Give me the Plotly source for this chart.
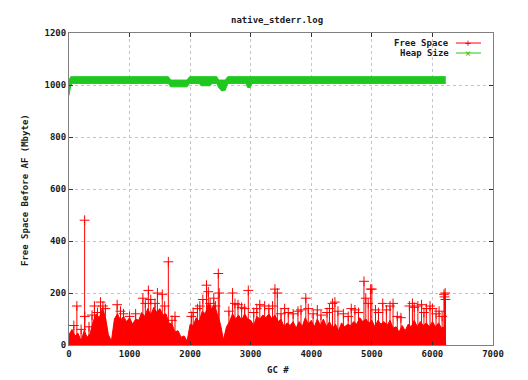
import plotly.graph_objects as go

# ---- data ----
# Free Space: dense body (top edge of the solid red area), sampled every 50 GCs
fs_env_gc = list(range(0, 6201, 50)) + [6220]
fs_env_val = [40, 60, 35, 45, 15, 55, 30, 45, 90, 120,
              105, 140, 110, 40, 15, 100, 120, 95, 110, 90,
              105, 80, 100, 95, 125, 110, 140, 115, 145, 125,
              140, 115, 120, 85, 80, 50, 55, 30, 35, 15,
              80, 75, 105, 90, 130, 120, 160, 140, 155, 120,
              80, 20, 70, 90, 120, 100, 115, 95, 120, 100,
              95, 75, 110, 100, 115, 105, 120, 100, 115, 90,
              100, 70, 85, 75, 90, 65, 90, 70, 105, 80,
              95, 70, 100, 75, 100, 70, 90, 65, 80, 55,
              85, 70, 80, 75, 90, 80, 105, 90, 100, 85,
              95, 70, 95, 80, 90, 75, 95, 65, 70, 50,
              75, 55, 80, 70, 95, 70, 90, 75, 85, 70,
              90, 70, 85, 65, 70, 0]

# Free Space: individual peaks standing above the body
spike_gc = [80, 130, 200, 258, 260, 330, 380, 420, 470, 520, 560, 600, 795, 850, 900,
            1000, 1100, 1220, 1260, 1310, 1350, 1420, 1460, 1540, 1580, 1640, 1700,
            1750, 2020, 2050, 2120, 2160, 2210, 2270, 2300, 2330, 2390, 2420, 2465,
            2480, 2640, 2700, 2740, 2790, 2850, 2900, 2960, 3050, 3100, 3150, 3230,
            3300, 3360, 3400, 3440, 3500, 3560, 3620, 3700, 3780, 3830, 3910, 3950,
            4030, 4100, 4160, 4260, 4300, 4350, 4390, 4440, 4530, 4610, 4660, 4720,
            4780, 4870, 4900, 4940, 4980, 5000, 5060, 5110, 5180, 5240, 5300, 5350,
            5420, 5480, 5620, 5670, 5700, 5760, 5820, 5860, 5900, 5960, 6000, 6060,
            6110, 6160, 6190, 6200, 6210, 6215]
spike_val = [75, 150, 60, 480, 110, 70, 115, 150, 125, 165, 150, 140, 155, 130, 120,
             110, 120, 180, 160, 210, 175, 160, 200, 195, 150, 320, 95,
             110, 110, 125, 140, 150, 175, 230, 205, 160, 180, 150, 275,
             200, 130, 200, 160, 155, 145, 140, 210, 125, 140, 155, 150,
             140, 150, 215, 200, 120, 140, 125, 120, 130, 135, 180, 140,
             120, 135, 115, 125, 140, 160, 165, 130, 120, 110, 140, 135,
             125, 245, 180, 160, 215, 215, 135, 125, 160, 135, 150, 160,
             110, 105, 150, 160, 145, 150, 155, 125, 140, 150, 140, 120,
             130, 110, 195, 185, 200, 175]

# Heap Size: band (lower / upper edge)
heap_gc = [0, 15, 30, 60, 1640, 1680, 1950, 1990, 2150, 2180, 2330, 2360, 2440,
           2470, 2520, 2580, 2620, 2920, 2950, 2990, 3020, 6220]
heap_upper = [1020, 1028, 1032, 1032, 1032, 1019, 1019, 1032, 1032, 1032, 1032,
              1032, 1032, 1019, 1019, 1019, 1032, 1032, 1032, 1032, 1032, 1032]
heap_lower = [960, 975, 1000, 1006, 1006, 993, 993, 1006, 1006, 997, 997,
              1006, 1006, 990, 977, 980, 1006, 1006, 990, 990, 1006, 1006]

x_ticks = [0, 1000, 2000, 3000, 4000, 5000, 6000, 7000]
y_ticks = [0, 200, 400, 600, 800, 1000, 1200]

RED = "#ff0000"
GREEN = "#1fc81f"
FONT = "DejaVu Sans Mono"
TXT = "#1a1a1a"

fig = go.Figure()

# red body
fig.add_trace(go.Scatter(x=fs_env_gc, y=fs_env_val, mode="lines", fill="tozeroy",
                         fillcolor=RED, line=dict(color=RED, width=1),
                         showlegend=False, hoverinfo="skip"))
# red impulses
sx, sy = [], []
for g, v in zip(spike_gc, spike_val):
    sx += [g, g, None]
    sy += [0, v, None]
fig.add_trace(go.Scatter(x=sx, y=sy, mode="lines", line=dict(color=RED, width=1),
                         showlegend=False, hoverinfo="skip"))
fig.add_trace(go.Scatter(x=spike_gc, y=spike_val, mode="markers",
                         marker=dict(symbol="cross-thin", size=7,
                                     line=dict(color=RED, width=1)),
                         showlegend=False))

# green band
fig.add_trace(go.Scatter(x=heap_gc, y=heap_lower, mode="lines",
                         line=dict(color=GREEN, width=1), showlegend=False,
                         hoverinfo="skip"))
fig.add_trace(go.Scatter(x=heap_gc, y=heap_upper, mode="lines", fill="tonexty",
                         fillcolor=GREEN, line=dict(color=GREEN, width=1),
                         showlegend=False, hoverinfo="skip"))

# manual gnuplot-style key (text then sample)
W, H = 424.0, 312.0
def px(xp):
    return (xp - 69) / W
def py(yp):
    return (345 - yp) / H

annotations = []
shapes = []
for i, (name, col, sym) in enumerate([("Free Space", RED, "+"), ("Heap Size", GREEN, "×")]):
    yy = 43 + i * 10
    annotations.append(dict(x=px(451), y=py(yy), xref="paper", yref="paper",
                            text=f"<b>{name}</b>", showarrow=False, xanchor="right",
                            yanchor="middle", font=dict(family=FONT, size=9, color=TXT)))
    shapes.append(dict(type="line", xref="paper", yref="paper", x0=px(456), x1=px(481),
                       y0=py(yy), y1=py(yy), line=dict(color=col, width=1)))
    annotations.append(dict(x=px(468), y=py(yy), xref="paper", yref="paper",
                            text=sym, showarrow=False, xanchor="center", yanchor="middle",
                            font=dict(family=FONT, size=10, color=col)))

annotations.append(dict(x=px(278), y=py(370), xref="paper", yref="paper",
                        text="<b>GC #</b>", showarrow=False, xanchor="center",
                        yanchor="middle", font=dict(family=FONT, size=9, color=TXT)))
annotations.append(dict(x=px(25), y=py(190), xref="paper", yref="paper",
                        text="<b>Free Space Before AF (Mbyte)</b>", showarrow=False,
                        textangle=-90, xanchor="center", yanchor="middle",
                        font=dict(family=FONT, size=9, color=TXT)))
annotations.append(dict(x=px(277), y=py(20), xref="paper", yref="paper",
                        text="<b>native_stderr.log</b>", showarrow=False,
                        xanchor="center", yanchor="middle",
                        font=dict(family=FONT, size=9, color=TXT)))

axis_common = dict(showline=True, linecolor="#808080", linewidth=1, mirror="ticks",
                   ticks="inside", ticklen=4, tickcolor="#333333",
                   showgrid=True, gridcolor="#c4c4c4", griddash="dot", gridwidth=1,
                   zeroline=False,
                   tickfont=dict(family=FONT, size=9, color=TXT, weight="bold"))

fig.update_layout(
    width=528, height=380,
    margin=dict(l=69, r=35, t=33, b=35),
    paper_bgcolor="white", plot_bgcolor="white",
    showlegend=False,
    xaxis=dict(range=[0, 7000], tickvals=x_ticks, ticktext=[str(v) for v in x_ticks],
               **axis_common),
    yaxis=dict(range=[0, 1200], tickvals=y_ticks, ticktext=[str(v) for v in y_ticks],
               **axis_common),
    annotations=annotations, shapes=shapes,
)

fig.write_html("out.html", config={"displayModeBar": False},
               post_script="document.body.style.margin='0';document.body.style.overflow='hidden';")
